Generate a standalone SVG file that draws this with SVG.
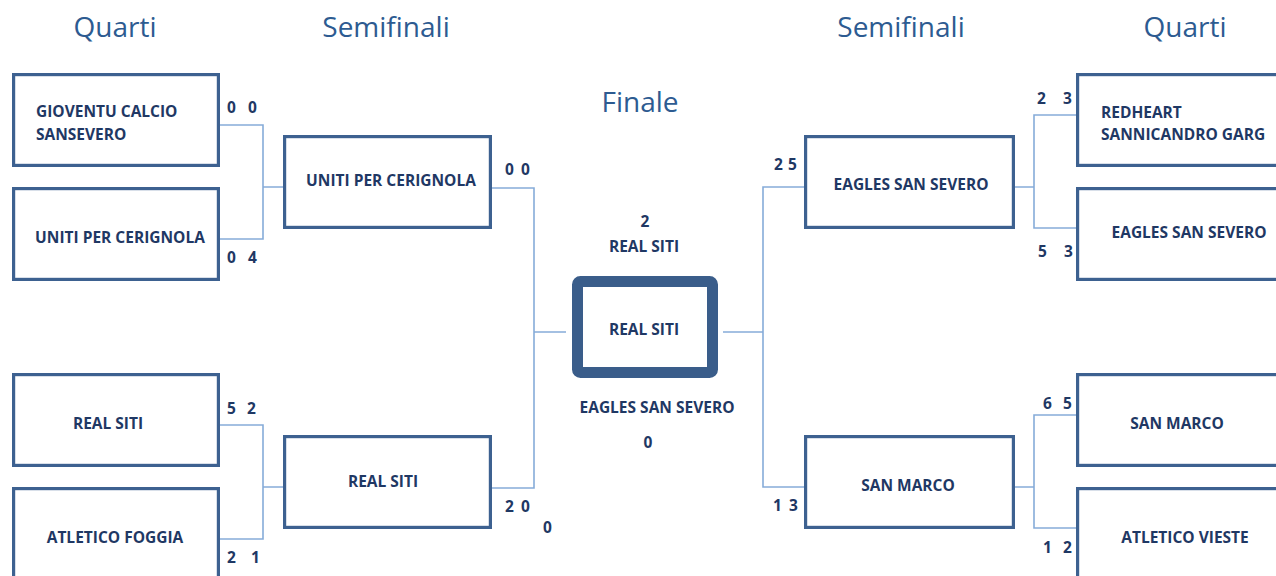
<svg xmlns="http://www.w3.org/2000/svg" width="1276" height="576" viewBox="0 0 1276 576">
<style>
.box{fill:#fff;stroke:#3d6190;stroke-width:3.2}
.fin{fill:#fff;stroke:#3a5d8a;stroke-width:11}
.ln{fill:none;stroke:#86acd9;stroke-width:1.6}
.h{font-family:"Open Sans","Noto Sans",sans-serif;font-size:28px;fill:#2d5b91}
.t{font-family:"Open Sans","Noto Sans",sans-serif;font-size:15.5px;font-weight:bold;fill:#1f3864}
.c{text-anchor:middle}
</style>
<rect width="1276" height="576" fill="#fff"/>
<g id="headings">
<text class="h c" x="115" y="37">Quarti</text>
<text class="h c" x="386" y="37">Semifinali</text>
<text class="h c" x="640" y="112">Finale</text>
<text class="h c" x="901" y="37">Semifinali</text>
<text class="h c" x="1185" y="37">Quarti</text>
</g>
<g id="connectors">
<path class="ln" d="M220,125 H263 V239 H220 M263,187 H283"/>
<path class="ln" d="M220,425 H263 V539 H220 M263,487 H283"/>
<path class="ln" d="M492,188 H534 V488 H492 M534,332 H566"/>
<path class="ln" d="M723,332 H763 M804,187 H763 V487 H804"/>
<path class="ln" d="M1015,187 H1034 M1076,115 H1034 V228 H1076"/>
<path class="ln" d="M1015,487 H1034 M1076,415 H1034 V528 H1076"/>
</g>
<g id="q1">
<rect class="box" x="13.6" y="74.6" width="204.8" height="90.8"/>
<text class="t" x="36" y="117">GIOVENTU CALCIO</text>
<text class="t" x="36" y="140">SANSEVERO</text>
<text class="t" x="227" y="113">0</text><text class="t" x="248" y="113">0</text>
</g>
<g id="q2">
<rect class="box" x="13.6" y="188.6" width="204.8" height="90.8"/>
<text class="t c" x="120" y="243">UNITI PER CERIGNOLA</text>
<text class="t" x="227" y="263">0</text><text class="t" x="248" y="263">4</text>
</g>
<g id="q3">
<rect class="box" x="13.6" y="374.6" width="204.8" height="90.8"/>
<text class="t c" x="108" y="429">REAL SITI</text>
<text class="t" x="227" y="414">5</text><text class="t" x="247" y="414">2</text>
</g>
<g id="q4">
<rect class="box" x="13.6" y="488.6" width="204.8" height="100"/>
<text class="t c" x="115" y="543">ATLETICO FOGGIA</text>
<text class="t" x="227" y="563">2</text><text class="t" x="251" y="563">1</text>
</g>
<g id="s1">
<rect class="box" x="284.6" y="136.6" width="205.8" height="90.8"/>
<text class="t c" x="391" y="186">UNITI PER CERIGNOLA</text>
<text class="t" x="505" y="175">0</text><text class="t" x="521" y="175">0</text>
</g>
<g id="s2">
<rect class="box" x="284.6" y="436.6" width="205.8" height="90.8"/>
<text class="t c" x="383" y="487">REAL SITI</text>
<text class="t" x="505" y="512">2</text><text class="t" x="521" y="512">0</text>
<text class="t" x="543" y="533">0</text>
</g>
<g id="final">
<rect class="fin" x="577.5" y="281.5" width="135" height="91" rx="3"/>
<text class="t c" x="644" y="335">REAL SITI</text>
<text class="t c" x="645" y="227">2</text>
<text class="t c" x="644" y="252">REAL SITI</text>
<text class="t c" x="657" y="413">EAGLES SAN SEVERO</text>
<text class="t c" x="648" y="448">0</text>
</g>
<g id="s3">
<rect class="box" x="805.6" y="136.6" width="207.8" height="90.8"/>
<text class="t c" x="911" y="190">EAGLES SAN SEVERO</text>
<text class="t" x="774" y="170">2</text><text class="t" x="788" y="170">5</text>
</g>
<g id="s4">
<rect class="box" x="805.6" y="436.6" width="207.8" height="90.8"/>
<text class="t c" x="908" y="491">SAN MARCO</text>
<text class="t" x="773" y="511">1</text><text class="t" x="789" y="511">3</text>
</g>
<g id="q5">
<rect class="box" x="1077.6" y="74.6" width="210" height="90.8"/>
<text class="t" x="1101" y="118">REDHEART</text>
<text class="t" x="1101" y="140">SANNICANDRO GARG</text>
<text class="t" x="1037" y="104">2</text><text class="t" x="1063" y="104">3</text>
</g>
<g id="q6">
<rect class="box" x="1077.6" y="188.6" width="210" height="90.8"/>
<text class="t c" x="1189" y="238">EAGLES SAN SEVERO</text>
<text class="t" x="1038" y="257">5</text><text class="t" x="1064" y="257">3</text>
</g>
<g id="q7">
<rect class="box" x="1077.6" y="374.6" width="210" height="90.8"/>
<text class="t c" x="1177" y="429">SAN MARCO</text>
<text class="t" x="1043" y="409">6</text><text class="t" x="1063" y="409">5</text>
</g>
<g id="q8">
<rect class="box" x="1077.6" y="488.6" width="210" height="100"/>
<text class="t c" x="1185" y="543">ATLETICO VIESTE</text>
<text class="t" x="1043" y="553">1</text><text class="t" x="1063" y="553">2</text>
</g>
</svg>
